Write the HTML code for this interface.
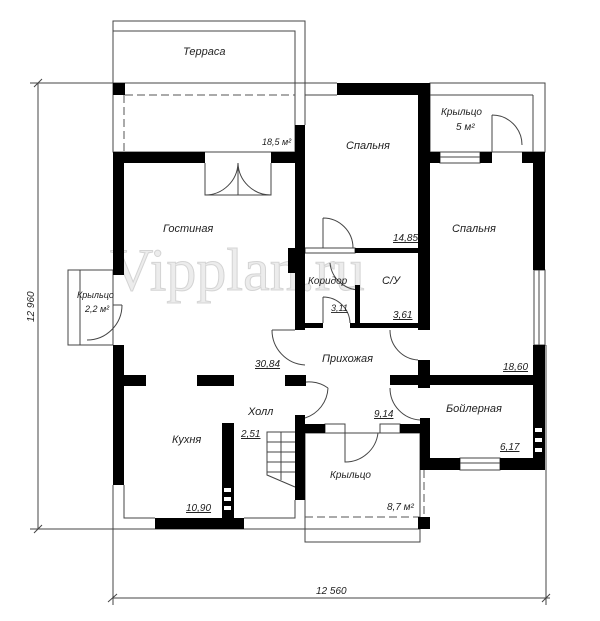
<!DOCTYPE html>
<html><head><meta charset="utf-8"><style>
html,body{margin:0;padding:0;background:#fff;}
svg{display:block;}
text{font-family:"Liberation Sans",sans-serif;font-style:italic;fill:#222;}
</style></head><body>
<svg width="600" height="621" viewBox="0 0 600 621" xmlns="http://www.w3.org/2000/svg">
<!-- watermark -->
<text x="110" y="290" style="font-family:'Liberation Serif',serif;font-style:normal;font-size:60px;fill:#ececec;stroke:#d4d4d4;stroke-width:1">Vipplan.ru</text>

<g stroke="#444" stroke-width="1" fill="none">
<line x1="38" y1="83" x2="38" y2="529"/>
<line x1="30" y1="83" x2="113" y2="83"/>
<line x1="30" y1="529" x2="113" y2="529"/>
<line x1="34" y1="87" x2="42" y2="79"/>
<line x1="34" y1="533" x2="42" y2="525"/>
<line x1="112" y1="598" x2="550" y2="598"/>
<line x1="113" y1="529" x2="113" y2="605"/>
<line x1="546" y1="345" x2="546" y2="605"/>
<line x1="108" y1="602" x2="117" y2="594"/>
<line x1="542" y1="602" x2="550" y2="594"/>
<rect x="113" y="21" width="192" height="62"/>
<rect x="113" y="31" width="182" height="121"/>
<line x1="295" y1="83" x2="337" y2="83"/>
<line x1="305" y1="95" x2="337" y2="95"/>
<line x1="305" y1="83" x2="305" y2="125"/>
<rect x="430" y="83" width="115" height="69"/>
<line x1="430" y1="95" x2="533" y2="95"/>
<line x1="533" y1="95" x2="533" y2="152"/>
<rect x="68" y="270" width="45" height="75"/>
<line x1="80" y1="270" x2="80" y2="345"/>
<rect x="305" y="433" width="115" height="109"/>
<line x1="305" y1="529" x2="420" y2="529"/>
<line x1="113" y1="485" x2="113" y2="529"/>
<line x1="113" y1="529" x2="305" y2="529"/>
<polyline points="124,485 124,518 155,518"/>
<polyline points="244,518 295,518 295,500"/>
<polyline points="205,163 205,195 238,195 238,163"/>
<polyline points="271,163 271,195 238,195"/>
<path d="M205,195 A33,33 0 0 0 238,163 A33,33 0 0 0 271,195"/>
<path d="M492,115 A30,30 0 0 1 522,145 M492,115 L492,152"/>
<path d="M323,218 A30,30 0 0 1 353,248 M323,218 L323,248"/>
<path d="M330,263 A30,30 0 0 0 360,290"/>
<path d="M323,297 A27,27 0 0 1 350,323 M323,297 L323,323"/>
<path d="M113,305 L122,305 M122,305 A35,35 0 0 1 87,340"/>
<path d="M272,330 L295,330 M272,330 A35,35 0 0 0 305,365"/>
<path d="M295,385 A33,33 0 0 1 328,388 M305,418 A33,33 0 0 0 328,388"/>
<path d="M390,330 A30,30 0 0 0 418,360"/>
<path d="M390,388 A32,32 0 0 0 420,420"/>
<path d="M345,433 L345,462 A33,33 0 0 0 378,433"/>
<rect x="440" y="152" width="40" height="11"/><line x1="440" y1="157" x2="480" y2="157"/>
<rect x="534" y="270" width="11" height="75"/><line x1="539" y1="270" x2="539" y2="345"/>
<rect x="325" y="424" width="20" height="9"/>
<rect x="380" y="424" width="20" height="9"/>
<rect x="460" y="458" width="40" height="12"/><line x1="460" y1="463" x2="500" y2="463"/>
<rect x="305" y="248" width="50" height="5"/>
<polyline points="295,432 267,432 267,475 295,487"/>
<line x1="267" y1="442" x2="295" y2="442"/><line x1="267" y1="452" x2="295" y2="452"/>
<line x1="267" y1="462" x2="295" y2="462"/><line x1="267" y1="472" x2="295" y2="472"/>
<line x1="281" y1="432" x2="281" y2="480"/>
</g>
<g stroke="#555" stroke-width="1" stroke-dasharray="8,4" fill="none">
<line x1="125" y1="95" x2="295" y2="95"/>
<line x1="124" y1="95" x2="124" y2="152"/>
<line x1="305" y1="517" x2="420" y2="517"/>
<line x1="424" y1="470" x2="424" y2="517"/>
</g>
<g fill="#000">
<rect x="113" y="83" width="12" height="12"/>
<rect x="418" y="517" width="12" height="12"/>
<rect x="113" y="152" width="92" height="11"/>
<rect x="271" y="152" width="34" height="11"/>
<rect x="113" y="152" width="11" height="123"/>
<rect x="295" y="125" width="10" height="205"/>
<rect x="337" y="83" width="93" height="12"/>
<rect x="418" y="83" width="12" height="247"/>
<rect x="355" y="248" width="63" height="5"/>
<rect x="305" y="323" width="18" height="5"/>
<rect x="350" y="323" width="68" height="5"/>
<rect x="355" y="285" width="5" height="43"/>
<rect x="418" y="152" width="22" height="11"/>
<rect x="480" y="152" width="12" height="11"/>
<rect x="522" y="152" width="23" height="11"/>
<rect x="533" y="152" width="12" height="118"/>
<rect x="533" y="345" width="12" height="125"/>
<rect x="418" y="360" width="12" height="28"/>
<rect x="390" y="375" width="143" height="10"/>
<rect x="113" y="345" width="11" height="140"/>
<rect x="124" y="375" width="22" height="11"/>
<rect x="197" y="375" width="37" height="11"/>
<rect x="285" y="375" width="21" height="11"/>
<rect x="222" y="423" width="12" height="95"/>
<rect x="155" y="518" width="89" height="11"/>
<rect x="295" y="415" width="10" height="85"/>
<rect x="295" y="424" width="30" height="9"/>
<rect x="400" y="424" width="30" height="9"/>
<rect x="420" y="418" width="10" height="52"/>
<rect x="420" y="458" width="40" height="12"/>
<rect x="500" y="458" width="45" height="12"/>
<rect x="288" y="248" width="10" height="25"/>
</g>
<g fill="#fff">
<rect x="224" y="488" width="7" height="4"/><rect x="224" y="497" width="7" height="4"/><rect x="224" y="506" width="7" height="4"/>
<rect x="535" y="428" width="7" height="4"/><rect x="535" y="438" width="7" height="4"/><rect x="535" y="448" width="7" height="4"/>
</g>
<g font-size="11">
<text x="183" y="55">Терраса</text>
<text x="262" y="145" font-size="9">18,5 м²</text>
<text x="163" y="232">Гостиная</text>
<text x="346" y="149">Спальня</text>
<text x="393" y="241" font-size="10" text-decoration="underline">14,85</text>
<text x="441" y="115" font-size="10">Крыльцо</text>
<text x="456" y="130" font-size="10">5 м²</text>
<text x="452" y="232">Спальня</text>
<text x="308" y="284" font-size="10">Коридор</text>
<text x="382" y="284">С/У</text>
<text x="331" y="311" font-size="9" text-decoration="underline">3,11</text>
<text x="393" y="318" font-size="10" text-decoration="underline">3,61</text>
<text x="77" y="298" font-size="9">Крыльцо</text>
<text x="85" y="312" font-size="9">2,2 м²</text>
<text x="255" y="367" font-size="10" text-decoration="underline">30,84</text>
<text x="322" y="362">Прихожая</text>
<text x="503" y="370" font-size="10" text-decoration="underline">18,60</text>
<text x="248" y="415">Холл</text>
<text x="241" y="437" font-size="10" text-decoration="underline">2,51</text>
<text x="172" y="443">Кухня</text>
<text x="374" y="417" font-size="10" text-decoration="underline">9,14</text>
<text x="446" y="412">Бойлерная</text>
<text x="500" y="450" font-size="10" text-decoration="underline">6,17</text>
<text x="330" y="478" font-size="10">Крыльцо</text>
<text x="387" y="510" font-size="10">8,7 м²</text>
<text x="186" y="511" font-size="10" text-decoration="underline">10,90</text>
<text x="316" y="594" font-size="10">12 560</text>
<text x="0" y="0" font-size="10" transform="translate(34,322) rotate(-90)">12 960</text>
</g>
</svg>
</body></html>
